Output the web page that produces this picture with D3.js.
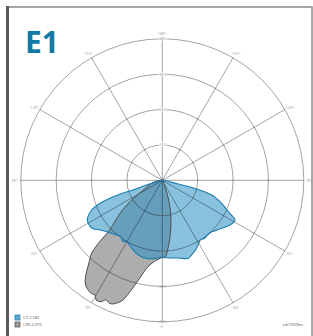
<!DOCTYPE html>
<html>
<head>
<meta charset="utf-8">
<script src="https://cdn.jsdelivr.net/npm/d3@7"></script>
<style>
  body { margin: 0; background: #fff; }
  svg { display: block; font-family: "Open Sans", sans-serif; }
</style>
</head>
<body>
<script>
// ------------------------------------------------------------
// DATA  (gamma in degrees from nadir, intensity in cd/1000lm)
// ------------------------------------------------------------
var ringValues  = [120, 240, 360, 480]
var angleLabels = [0, 30, 60, 90, 120, 150, 180]

// C0 (right half of the C0-C180 plane)
var c0Gamma = [90, 84, 78, 76.5, 76, 73.4, 68.8, 64.6, 61.4, 58.5, 56.6, 51.1, 46, 43.9, 38.7, 36, 33, 30, 26.8, 21.5, 18.4, 11.6, 3.3, 0]
var c0Value = [0, 15, 30, 80, 114, 175, 216, 248, 281, 279, 275, 259, 247, 242, 241, 244, 240, 247, 258, 272, 279, 269, 263, 259]
// C180 (left half)
var c180Gamma = [0, 5, 11.3, 17.8, 22.6, 28.4, 30.1, 33, 35, 37, 39.8, 44, 47.2, 51.4, 55, 57.3, 60, 62.1, 67.2, 69.7, 71.5, 72, 74, 80, 90]
var c180Value = [259, 266, 270, 266, 256, 243, 241, 247, 240, 236, 242, 250, 257, 270, 286, 291, 290, 288, 260, 225, 175, 100, 40, 10, 0]

// C90 (right half of the C90-C270 plane)
var c90Gamma = [45, 30, 25, 20, 18, 14.3, 9.6, 5.2, 2, 0]
var c90Value = [0, 5, 12, 45, 70, 115, 171, 226, 262, 262]
// C270 (left half)
var c270Gamma = [0, 4, 9.4, 13, 15.8, 18.2, 20.5, 21.6, 23.2, 25.3, 26.7, 28.9, 30.4, 32.1, 35.5, 37.5, 39.3, 42.3, 44.1, 45.4, 46.5, 48, 52, 56.5, 63, 75, 83, 90]
var c270Value = [262, 271, 297, 341, 387, 427, 445, 451, 454, 449, 461, 464, 451, 453, 444, 430, 407, 366, 345, 305, 250, 225, 182, 131, 72, 35, 19, 0]

// ------------------------------------------------------------
// SETUP
// ------------------------------------------------------------
var W = 313, H = 336
  , cx = 162.3, cy = 180.3
  , R = 141.5

var svg = d3.select("body").append("svg")
	.attr("width", W)
	.attr("height", H)

var r = d3.scaleLinear().domain([0, 480]).range([0, R])

// frame
svg.append("rect")
	.attr("x", 7).attr("y", 7)
	.attr("width", 305).attr("height", 340)
	.attr("fill", "none")
	.attr("stroke", "#8c8c8c")
	.attr("stroke-width", 1.5)
svg.append("line")
	.attr("x1", 7.5).attr("x2", 7.5)
	.attr("y1", 6).attr("y2", H)
	.attr("stroke", "#5a5a5a")
	.attr("stroke-width", 3)

// title
svg.append("text")
	.attr("x", 25).attr("y", 53)
	.attr("font-size", 30)
	.attr("font-weight", 700)
	.attr("fill", "#117aa5")
	.text("E1")

var g = svg.append("g").attr("transform", "translate(" + cx + "," + cy + ")")

// helpers: gamma on right side -> angle 180-g, left side -> 180+g (d3 radial: 0 = up, clockwise)
var rad = function (deg) { return deg * Math.PI / 180 }
var side = function (gammas, values, sign) {
	return gammas.map(function (gm, i) { return [rad(180 - sign * gm), r(values[i])] })
}

var radial = d3.lineRadial()
	.angle(function (d) { return d[0] })
	.radius(function (d) { return d[1] })
	.curve(d3.curveCatmullRomClosed.alpha(0.5))

var bluePts = side(c0Gamma, c0Value, 1).concat(side(c180Gamma, c180Value, -1))
var greyPts = side(c90Gamma, c90Value, 1).concat(side(c270Gamma, c270Value, -1))

// fills
g.append("path")
	.attr("d", radial(greyPts))
	.attr("fill", "#adadad")
g.append("path")
	.attr("d", radial(bluePts))
	.attr("fill", "#2f93c5")
	.attr("fill-opacity", 0.57)

// grid
var grid = g.append("g")
	.attr("stroke", "#000")
	.attr("stroke-opacity", 0.36)
	.attr("fill", "none")
	.attr("stroke-width", 1)

grid.selectAll("circle").data(ringValues).enter().append("circle")
	.attr("r", function (d) { return r(d) })

grid.selectAll("line").data(d3.range(0, 360, 30)).enter().append("line")
	.attr("x1", 0).attr("y1", 0)
	.attr("x2", function (d) { return R * Math.sin(rad(d)) })
	.attr("y2", function (d) { return -R * Math.cos(rad(d)) })

// outlines
g.append("path")
	.attr("d", radial(greyPts))
	.attr("fill", "none")
	.attr("stroke", "#4d4d4d")
	.attr("stroke-width", 1)
g.append("path")
	.attr("d", radial(bluePts))
	.attr("fill", "none")
	.attr("stroke", "#1b7db0")
	.attr("stroke-width", 1.1)

// ring labels (top and bottom of vertical axis)
var labStyle = function (sel) {
	sel.attr("font-size", 4.2)
		.attr("fill", "#9a9a9a")
		.attr("text-anchor", "middle")
}
g.append("g").selectAll("text").data(ringValues).enter().append("text")
	.attr("x", 0)
	.attr("y", function (d) { return -r(d) + 1.5 })
	.call(labStyle)
	.attr("stroke", "#fff")
	.attr("stroke-width", 1.2)
	.attr("paint-order", "stroke")
	.text(function (d) { return d })
g.append("g").selectAll("text").data(ringValues).enter().append("text")
	.attr("x", 0)
	.attr("y", function (d) { return r(d) + 1.5 })
	.call(labStyle)
	.attr("fill-opacity", 0.8)
	.text(function (d) { return d })

// angle labels
var angLab = []
angleLabels.forEach(function (gm) {
	angLab.push({ a: 180 - gm, t: gm })
	if (gm > 0 && gm < 180) angLab.push({ a: 180 + gm, t: gm })
})
g.append("g").selectAll("text").data(angLab).enter().append("text")
	.attr("x", function (d) { return (R + 6) * Math.sin(rad(d.a)) })
	.attr("y", function (d) { return -(R + 5) * Math.cos(rad(d.a)) + 1.5 })
	.call(labStyle)
	.text(function (d) { return d.t + "°" })

// legend
var legend = [{ name: "C0-C180", fill: "#5eaad2", stroke: "#1b7db0" },
              { name: "C90-C270", fill: "#9c9c9c", stroke: "#4d4d4d" }]
var lg = svg.append("g").selectAll("g").data(legend).enter().append("g")
	.attr("transform", function (d, i) { return "translate(15," + (315 + i * 7) + ")" })
lg.append("rect")
	.attr("width", 5).attr("height", 5)
	.attr("fill", function (d) { return d.fill })
	.attr("stroke", function (d) { return d.stroke })
	.attr("stroke-width", 0.7)
lg.append("text")
	.attr("x", 8).attr("y", 4)
	.attr("font-size", 4.2)
	.attr("fill", "#555")
	.text(function (d) { return d.name })

svg.append("text")
	.attr("x", 303).attr("y", 325.5)
	.attr("text-anchor", "end")
	.attr("font-size", 4.2)
	.attr("fill", "#555")
	.text("cd/1000lm")
</script>
</body>
</html>
